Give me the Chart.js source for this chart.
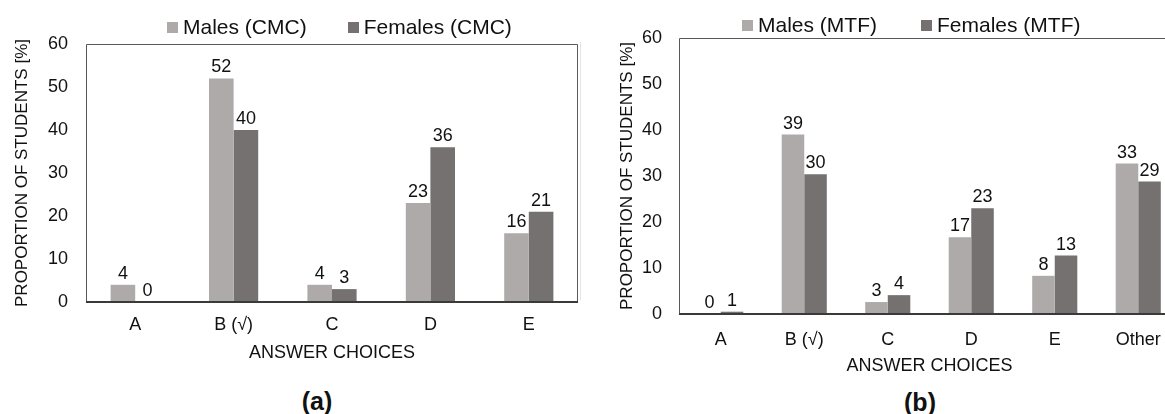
<!DOCTYPE html>
<html>
<head>
<meta charset="utf-8">
<script src="https://cdn.jsdelivr.net/npm/chart.js@4.4.1/dist/chart.umd.min.js"></script>
<style>
  html, body { margin: 0; padding: 0; background: #fff; }
  body { position: relative; width: 1165px; height: 414px; overflow: hidden; font-family: 'Liberation Sans', Arial, sans-serif; color: #111; }
  canvas { position: absolute; }
  .legend { position: absolute; display: flex; align-items: center; font-size: 21px; line-height: 24px; white-space: nowrap; }
  .legend .item { display: flex; align-items: center; }
  .legend .sw { display: inline-block; width: 11px; height: 11px; margin-right: 5px; }
  .caption { position: absolute; width: 80px; text-align: center; font-weight: bold; font-size: 25px; line-height: 30px; }
  .sep { position: absolute; left: 580px; top: 42px; width: 1px; height: 258px; background: #e4e4e4; }
</style>
</head>
<body>
<canvas id="chartCMC" width="600" height="364" style="left:0;top:0"></canvas>
<canvas id="chartMTF" width="620" height="377" style="left:580px;top:0"></canvas>
<div class="sep"></div>
<div class="legend" id="legendCMC" style="left:167px;top:15px;gap:41px"></div>
<div class="legend" id="legendMTF" style="left:742px;top:13px;gap:44px"></div>
<div class="caption" style="left:277px;top:386px">(a)</div>
<div class="caption" style="left:880px;top:387px">(b)</div>
<script>
// (a) conventional multiple choice
var choicesCMC = ['A', 'B (\u221A)', 'C', 'D', 'E'];
var malesCMC = [4, 52, 4, 23, 16];
var femalesCMC = [0, 40, 3, 36, 21];

// (b) multiple true-false
var choicesMTF = ['A', 'B (\u221A)', 'C', 'D', 'E', 'Other'];
var malesMTF = [0, 39, 2.6, 16.7, 8.3, 32.7];
var femalesMTF = [0.5, 30.4, 4.1, 23, 12.7, 28.8];

var yTicks = [0, 10, 20, 30, 40, 50, 60];

var MALE = '#aeaaaa';
var FEMALE = '#767171';
var TEXT = '#111';
var FONT = "'Liberation Sans', Arial, sans-serif";

// frame round the plot area, heavier line on the x axis
var framePlugin = {
    id: 'frame',
    afterDatasetsDraw: function (chart) {
        var a = chart.chartArea, ctx = chart.ctx;
        ctx.save();
        ctx.strokeStyle = '#595959';
        ctx.lineWidth = 1;
        ctx.beginPath();
        ctx.moveTo(a.left + 0.5, a.bottom);
        ctx.lineTo(a.left + 0.5, a.top + 0.5);
        ctx.lineTo(a.right - 0.5, a.top + 0.5);
        ctx.lineTo(a.right - 0.5, a.bottom);
        ctx.stroke();
        ctx.strokeStyle = '#3a3a3a';
        ctx.lineWidth = 2;
        ctx.beginPath();
        ctx.moveTo(a.left, a.bottom);
        ctx.lineTo(a.right, a.bottom);
        ctx.stroke();
        ctx.restore();
    }
};

// rounded value over each bar
var valuePlugin = {
    id: 'values',
    afterDatasetsDraw: function (chart) {
        var ctx = chart.ctx;
        ctx.save();
        ctx.fillStyle = TEXT;
        ctx.font = '18px ' + FONT;
        ctx.textAlign = 'center';
        ctx.textBaseline = 'alphabetic';
        chart.data.datasets.forEach(function (ds, i) {
            chart.getDatasetMeta(i).data.forEach(function (bar, j) {
                ctx.fillText(Math.round(ds.data[j]), bar.x, bar.y - 6);
            });
        });
        ctx.restore();
    }
};

function makeChart(id, labels, males, females, names, cfg) {
    var ctx = document.getElementById(id).getContext('2d');
    return new Chart(ctx, {
        type: 'bar',
        data: {
            labels: labels,
            datasets: [
                { label: names[0], data: males, backgroundColor: MALE, categoryPercentage: cfg.cat, barPercentage: 1 },
                { label: names[1], data: females, backgroundColor: FEMALE, categoryPercentage: cfg.cat, barPercentage: 1 }
            ]
        },
        options: {
            responsive: false,
            animation: false,
            layout: { padding: { top: cfg.top, right: cfg.right, left: 0, bottom: 0 } },
            plugins: { legend: { display: false }, tooltip: { enabled: false } },
            scales: {
                x: {
                    grid: { display: false, drawTicks: false },
                    border: { display: false },
                    ticks: { color: TEXT, font: { size: 18, family: FONT }, padding: cfg.xPad },
                    title: { display: true, text: 'ANSWER CHOICES', color: TEXT, font: { size: 18, family: FONT }, padding: 0 },
                    afterFit: function (s) { s.height = cfg.xHeight; }
                },
                y: {
                    min: yTicks[0],
                    max: yTicks[yTicks.length - 1],
                    grid: { display: false, drawTicks: false },
                    border: { display: false },
                    ticks: { stepSize: yTicks[1] - yTicks[0], color: TEXT, font: { size: 18, family: FONT }, padding: cfg.yPad },
                    title: { display: true, text: 'PROPORTION OF STUDENTS [%]', color: TEXT, font: { size: 17, family: FONT }, padding: { top: cfg.yTitle, bottom: 0 } },
                    afterFit: function (s) { s.width = cfg.yWidth; }
                }
            }
        },
        plugins: [framePlugin, valuePlugin]
    });
}

function makeLegend(id, names) {
    var el = document.getElementById(id);
    [MALE, FEMALE].forEach(function (c, i) {
        var item = document.createElement('div');
        item.className = 'item';
        var sw = document.createElement('span');
        sw.className = 'sw';
        sw.style.background = c;
        item.appendChild(sw);
        item.appendChild(document.createTextNode(names[i]));
        el.appendChild(item);
    });
}

var namesCMC = ['Males (CMC)', 'Females (CMC)'];
var namesMTF = ['Males (MTF)', 'Females (MTF)'];

makeChart('chartCMC', choicesCMC, malesCMC, femalesCMC, namesCMC,
    { cat: 0.5, top: 44, right: 22, xPad: 12, xHeight: 62, yPad: 18, yWidth: 86, yTitle: 12 });
makeChart('chartMTF', choicesMTF, malesMTF, femalesMTF, namesMTF,
    { cat: 0.54, top: 38, right: 20, xPad: 15, xHeight: 63, yPad: 17, yWidth: 99, yTitle: 37 });

makeLegend('legendCMC', namesCMC);
makeLegend('legendMTF', namesMTF);
</script>
</body>
</html>
